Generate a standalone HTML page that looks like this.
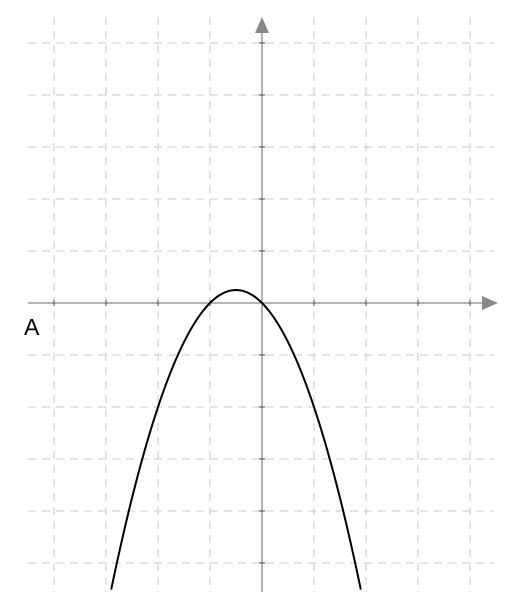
<!DOCTYPE html>
<html><head><meta charset="utf-8"><style>body{margin:0;background:#fff}svg{display:block}</style></head>
<body>
<svg id="chart" width="510" height="609" xmlns="http://www.w3.org/2000/svg">
<g id="grid"></g>
<g id="axes"></g>
<path id="curve" fill="none" stroke="#000" stroke-width="2"></path>
<text x="24" y="335" font-family="Liberation Sans, sans-serif" font-size="23">A</text>
</svg>
<script>
const xTicks=[-4,-3,-2,-1,1,2,3,4];
const yTicks=[5,4,3,2,1,-1,-2,-3,-4,-5];
const coefA=-1, coefB=-1, coefC=0;
const xDomain=[-2.9,1.9];
const ox=262, oy=303, u=52;
const sx=x=>ox+x*u, sy=y=>oy-y*u;
const ns='http://www.w3.org/2000/svg';
function mk(tag,attrs,parent){const e=document.createElementNS(ns,tag);for(const k in attrs)e.setAttribute(k,attrs[k]);parent.appendChild(e);return e;}
const grid=document.getElementById('grid'), axes=document.getElementById('axes');
[-4,-3,-2,-1,0,1,2,3,4].forEach(x=>{
 const l=mk('line',{x1:sx(x),x2:sx(x),y1:17,y2:592,stroke:'#c8c8c8','stroke-width':1,'stroke-dasharray':'8 6'},grid);
 
 
});
[5,4,3,2,1,0,-1,-2,-3,-4,-5].forEach(y=>{
 const l=mk('line',{x1:28,x2:494,y1:sy(y),y2:sy(y),stroke:'#c8c8c8','stroke-width':1,'stroke-dasharray':'8 6'},grid);
 
 
});
let e=mk('line',{x1:28,x2:484,y1:oy,y2:oy,stroke:'#888','stroke-width':1.3},axes);

e=mk('line',{x1:ox,x2:ox,y1:32,y2:592,stroke:'#888','stroke-width':1.3},axes);

e=mk('polygon',{points:'482,296 498,303 482,310',fill:'#888'},axes);

e=mk('polygon',{points:'255,33 262,17 269,33',fill:'#888'},axes);

xTicks.forEach(x=>{const t=mk('line',{x1:sx(x),x2:sx(x),y1:oy-3,y2:oy+3,stroke:'#444','stroke-width':1},axes);
 });
yTicks.forEach(y=>{const t=mk('line',{x1:ox-3,x2:ox+3,y1:sy(y),y2:sy(y),stroke:'#444','stroke-width':1},axes);
 });
let d='';const N=120;
for(let i=0;i<=N;i++){const x=xDomain[0]+(xDomain[1]-xDomain[0])*i/N;const y=coefA*x*x+coefB*x+coefC;d+=(i?'L':'M')+sx(x).toFixed(2)+','+sy(y).toFixed(2);}
document.getElementById('curve').setAttribute('d',d);
</script>
</body></html>
